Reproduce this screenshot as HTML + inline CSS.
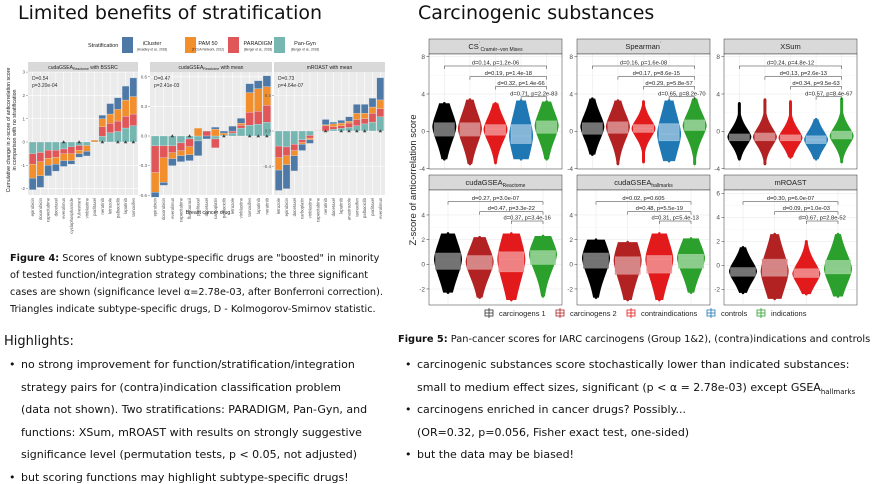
<!DOCTYPE html>
<html><head><meta charset="utf-8">
<style>
html,body{margin:0;padding:0;background:#fff;}
svg{display:block;font-family:"DejaVu Sans","Liberation Sans",sans-serif;}
.sm{font-family:"Liberation Sans",sans-serif;}
</style></head>
<body>
<svg id="root" width="882" height="484" viewBox="0 0 882 484" xmlns="http://www.w3.org/2000/svg">
<text x="18" y="19" font-size="19" fill="#111">Limited benefits of stratification</text>
<text x="418" y="19" font-size="19" fill="#111">Carcinogenic substances</text>
<g id="leftChart"></g>
<g id="rightChart"></g>

<g font-size="9.7" fill="#111">
<text x="10" y="261"><tspan font-weight="bold">Figure 4:</tspan> Scores of known subtype-specific drugs are "boosted" in minority</text>
<text x="10" y="278">of tested function/integration strategy combinations; the three significant</text>
<text x="10" y="295">cases are shown (significance level α=2.78e-03, after Bonferroni correction).</text>
<text x="10" y="312">Triangles indicate subtype-specific drugs, D - Kolmogorov-Smirnov statistic.</text>
</g>
<text x="4" y="345" font-size="13" fill="#111">Highlights:</text>
<g font-size="11" fill="#111">
<text x="9" y="368">•</text><text x="21" y="368">no strong improvement for function/stratification/integration</text>
<text x="21" y="391">strategy pairs for (contra)indication classification problem</text>
<text x="21" y="413">(data not shown). Two stratifications: PARADIGM, Pan-Gyn, and</text>
<text x="21" y="436">functions: XSum, mROAST with results on strongly suggestive</text>
<text x="21" y="458">significance level (permutation tests, p &lt; 0.05, not adjusted)</text>
<text x="9" y="481">•</text><text x="21" y="481">but scoring functions may highlight subtype-specific drugs!</text>
</g>
<g font-size="9.8" fill="#111">
<text x="398" y="342"><tspan font-weight="bold">Figure 5:</tspan> Pan-cancer scores for IARC carcinogens (Group 1&amp;2), (contra)indications and controls</text>
</g>
<g font-size="11" fill="#111">
<text x="405" y="368">•</text><text x="417" y="368">carcinogenic substances score stochastically lower than indicated substances:</text>
<text x="417" y="391">small to medium effect sizes, significant (p &lt; α = 2.78e-03) except GSEA<tspan font-size="7" dy="3">hallmarks</tspan></text>
<text x="405" y="413">•</text><text x="417" y="413">carcinogens enriched in cancer drugs? Possibly...</text>
<text x="417" y="436">(OR=0.32, p=0.056, Fisher exact test, one-sided)</text>
<text x="405" y="458">•</text><text x="417" y="458">but the data may be biased!</text>
</g>
</svg>
<script>
// ===== Left chart data =====
const drugs1 = ["epirubicin","doxorubicin","capecitabine","docetaxel","everolimus","cyclophosphamide","fulvestrant","vinblastine","paclitaxel","neratinib","letrozole","palbociclib","lapatinib","tamoxifen"];
const drugs2 = ["epirubicin","doxorubicin","everolimus","capecitabine","fluorouracil","paclitaxel","docetaxel","carboplatin","palbociclib","letrozole","vinblastine","tamoxifen","lapatinib","neratinib"];
const drugs3 = ["letrozole","epirubicin","docetaxel","carboplatin","vinblastine","capecitabine","neratinib","docetaxel","lapatinib","anastrozole","tamoxifen","palbociclib","paclitaxel","everolimus"];
const p1Teal = [-0.5,-0.45,-0.35,-0.35,-0.3,-0.2,-0.15,-0.15,0,0.25,0.4,0.45,0.6,0.7];
const p1Red = [-0.45,-0.4,-0.35,-0.3,-0.2,-0.3,-0.2,0,0,0.4,0.4,0.45,0.5,0.5];
const p1Orange = [-0.6,-0.6,-0.3,-0.3,-0.3,-0.3,-0.15,-0.25,0.08,0.35,0.4,0.5,0.7,0.75];
const p1Blue = [-0.5,-0.5,-0.45,-0.3,-0.25,-0.15,-0.15,-0.2,0,0.15,0.45,0.5,0.6,0.8];
const p2Teal = [-0.1,-0.1,-0.1,-0.07,-0.03,-0.05,0,-0.03,0.01,0.03,0.08,0.11,0.12,0.14];
const p2Red = [-0.27,-0.12,-0.07,-0.08,-0.08,0,0.05,-0.09,0,0.02,0.03,0.13,0.13,0.17];
const p2Orange = [-0.2,-0.25,-0.06,-0.05,-0.08,0.08,0,0.07,0.02,0,0.02,0.2,0.23,0.19];
const p2Blue = [-0.05,-0.03,-0.07,-0.06,-0.06,-0.15,-0.03,0.02,0.02,0.05,0.05,0.09,0.08,0.11];
const p3Teal = [-0.17,-0.18,-0.15,-0.1,-0.05,0,-0.01,0.02,0.03,0.04,0.06,0.08,0.1,0.16];
const p3Red = [-0.13,-0.1,-0.07,-0.03,-0.03,0,0.06,0.03,0.03,0.05,0.07,0.06,0.1,0.09];
const p3Orange = [-0.14,-0.1,-0.06,-0.02,-0.02,0.005,0.01,0.03,0.03,0.02,0.07,0.06,0.07,0.1];
const p3Blue = [-0.23,-0.27,-0.17,-0.07,-0.04,0,0.06,0.02,0.03,0.05,0.1,0.1,0.1,0.25];
const p1Tri = [4,6,9,11,12,13];
const p2Tri = [2,4,8,11,12,13];
const p3Tri = [6,8,9,10,11,13];
const p1Ticks = [3,2,1,0,-1,-2];
const p2Ticks = [0.6,0.3,0.0,-0.3,-0.6];
const p3Ticks = [0.4,0.0,-0.4];
const p1TickLabels = ["3","2","1","0","-1","-2"];
const p2TickLabels = ["0.6","0.3","0.0","-0.3","-0.6"];
const p3TickLabels = ["0.4","0.0","-0.4"];

// ===== Right chart data =====
const groupNames = ["carcinogens 1","carcinogens 2","contraindications","controls","indications"];
const csLo=[-3,-3.5,-3.4,-3,-3], csQ1=[-0.5,-0.5,-0.4,-1.3,-0.2], csMed=[0.5,0.3,0.2,-0.5,0.6], csQ3=[0.9,0.9,0.7,0.7,1.1], csHi=[3,3.4,3,3.3,3.2];
const spLo=[-2.5,-3.5,-3.3,-3.2,-3.5], spQ1=[-0.3,-0.2,-0.1,-1.0,0.1], spMed=[0.5,0.5,0.3,-0.3,0.6], spQ3=[0.9,1.0,0.7,0.8,1.2], spHi=[3.5,3.3,3.2,3.3,3.5];
const xsLo=[-3,-3.5,-2.8,-3,-3.3], xsQ1=[-1,-1,-1,-1.3,-0.8], xsMed=[-0.6,-0.6,-0.7,-0.9,-0.5], xsQ3=[-0.3,-0.2,-0.4,-0.5,0], xsHi=[3,3.4,3.2,1.3,3.5];
const rcLo=[-2.3,-2.7,-2.9,-2.6], rcQ1=[-0.4,-0.4,-0.6,0], rcMed=[0.4,0.2,0.4,0.8], rcQ3=[0.9,0.7,1.0,1.1], rcHi=[2.5,2.2,2.5,2.3];
const hmLo=[-2.7,-2.9,-2.9,-2.3], hmQ1=[-0.3,-0.8,-0.7,-0.3], hmMed=[0.5,0.3,0.4,0.5], hmQ3=[0.9,0.6,0.7,0.8], hmHi=[2,1.8,2.5,2.1];
const mrLo=[-2.3,-2.8,-2.4,-2.6], mrQ1=[-0.9,-0.9,-1,-0.7], mrMed=[-0.5,-0.5,-0.7,-0.3], mrQ3=[-0.2,0.5,-0.3,0.4], mrHi=[1.5,2.6,2,2.6];
const csBr=["d=0.14, p=1.2e-06","d=0.19, p=1.4e-18","d=0.32, p=1.4e-66","d=0.71, p=2.2e-83"];
const spBr=["d=0.16, p=1.6e-08","d=0.17, p=8.6e-15","d=0.29, p=5.8e-57","d=0.65, p=8.2e-70"];
const xsBr=["d=0.24, p=4.8e-12","d=0.13, p=2.6e-13","d=0.34, p=9.5e-63","d=0.57, p=8.4e-67"];
const rcBr=["d=0.27, p=3.0e-07","d=0.47, p=3.3e-22","d=0.37, p=3.4e-16"];
const hmBr=["d=0.02, p=0.605","d=0.48, p=5.5e-19","d=0.31, p=5.4e-13"];
const mrBr=["d=0.30, p=6.0e-07","d=0.09, p=1.0e-03","d=0.67, p=2.8e-52"];
const row1BrY=[7.0,5.85,4.8,3.7];
const rcBrY=[5.08,4.27,3.51];
const mrBrY=[5.3,4.47,3.69];
const row1Ticks=[8,4,0,-4];
const row2Ticks=[4,2,0,-2];
const mrTicks=[6,4,2,0,-2];

const NS="http://www.w3.org/2000/svg";
function mk(parent,tag,attrs,txt){const e=document.createElementNS(NS,tag);for(const k in attrs)e.setAttribute(k,attrs[k]);if(txt!==undefined)e.textContent=txt;parent.appendChild(e);return e;}

// ===== Left chart =====
const L=document.getElementById('leftChart');
const COLS={blue:"#4e79a7",orange:"#f28e2b",red:"#e15759",teal:"#76b7b2"};
const lg=mk(L,'g',{});


mk(lg,'text',{x:88,y:47,'font-size':5.5,class:'sm',fill:'#222'},'Stratification');
const legItems=[["iCluster","(Hoadley et al., 2018)",COLS.blue,122,152],["PAM 50","(TCGA Network, 2012)",COLS.orange,185,208],["PARADIGM","(Berger et al., 2018)",COLS.red,228,258],["Pan-Gyn","(Berger et al., 2018)",COLS.teal,274,305]];
legItems.forEach(it=>{
  const g=mk(lg,'g',{});
  
  
  mk(g,'rect',{x:it[3],y:37,width:11,height:16,fill:it[2]});
  mk(g,'text',{x:it[4],y:45,'font-size':5.5,class:'sm','text-anchor':'middle',fill:'#222'},it[0]);
  mk(g,'text',{x:it[4],y:50.5,'font-size':3.2,class:'sm','text-anchor':'middle',fill:'#333'},it[1]);
});
mk(L,'text',{transform:'translate(10,130) rotate(-90)','font-size':5.3,class:'sm','text-anchor':'middle',fill:'#222'},'Cumulative change in z-score of anticorrelation score');
mk(L,'text',{transform:'translate(16,130) rotate(-90)','font-size':5.3,class:'sm','text-anchor':'middle',fill:'#222'},'in comparison with no stratification');
mk(L,'text',{x:208,y:214,'font-size':5.3,class:'sm','text-anchor':'middle',fill:'#222'},'Breast cancer drug');

const leftPanels=[
 {x0:28,x1:138,zero:142,ppu:23.3,teal:p1Teal,red:p1Red,orange:p1Orange,blue:p1Blue,tri:p1Tri,ticks:p1Ticks,tl:p1TickLabels,drugs:drugs1,title:"cudaGSEA",sub:"Reactome",rest:" with BSSRC",D:"D=0.54",p:"p=3.20e-04"},
 {x0:150,x1:272,zero:136,ppu:98.7,teal:p2Teal,red:p2Red,orange:p2Orange,blue:p2Blue,tri:p2Tri,ticks:p2Ticks,tl:p2TickLabels,drugs:drugs2,title:"cudaGSEA",sub:"Reactome",rest:" with mean",D:"D=0.47",p:"p=2.41e-03"},
 {x0:274,x1:385,zero:131,ppu:88.75,teal:p3Teal,red:p3Red,orange:p3Orange,blue:p3Blue,tri:p3Tri,ticks:p3Ticks,tl:p3TickLabels,drugs:drugs3,title:"mROAST with mean",sub:"",rest:"",D:"D=0.73",p:"p=4.64e-07"}
];
leftPanels.forEach((P,pi)=>{
  const g=mk(L,'g',{});
  
  
  const top=72,bot=195,w=P.x1-P.x0,n=P.teal.length,unit=w/(n-1+1.2);
  const xc=i=>P.x0+unit*(0.6+i);
  const yv=v=>P.zero-v*P.ppu;
  mk(g,'rect',{x:P.x0,y:62,width:w,height:10,fill:'#d9d9d9'});
  const st=mk(g,'text',{x:(P.x0+P.x1)/2,y:69,'font-size':5,class:'sm','text-anchor':'middle',fill:'#222'},P.title);
  if(P.sub){mk(st,'tspan',{'font-size':3.5,dy:1},P.sub);mk(st,'tspan',{dy:-1},P.rest);}
  mk(g,'rect',{x:P.x0,y:top,width:w,height:bot-top,fill:'#ebebeb'});
  P.ticks.forEach((t,k)=>{
    const y=yv(t);
    mk(g,'line',{x1:P.x0,x2:P.x1,y1:y,y2:y,stroke:'#fff','stroke-width':0.6});
    mk(g,'text',{x:P.x0-3,y:y+1.6,'font-size':4.5,class:'sm','text-anchor':'end',fill:'#555'},P.tl[k]);
    mk(g,'line',{x1:P.x0-2,x2:P.x0,y1:y,y2:y,stroke:'#555','stroke-width':0.4});
  });
  for(let i=0;i<n;i++){mk(g,'line',{x1:xc(i),x2:xc(i),y1:top,y2:bot,stroke:'#fff','stroke-width':0.6});}
  const order=[["teal",P.teal],["red",P.red],["orange",P.orange],["blue",P.blue]];
  for(let i=0;i<n;i++){
    let pos=0,neg=0;
    order.forEach(([c,arr])=>{
      const v=arr[i]; if(!v) return;
      let a,b; if(v>0){a=pos;b=pos+v;pos=b;}else{a=neg;b=neg+v;neg=b;}
      const r=mk(g,'rect',{x:xc(i)-unit*0.45,y:Math.min(yv(a),yv(b)),width:unit*0.9,height:Math.abs(yv(a)-yv(b)),fill:COLS[c],stroke:'#dde6ef','stroke-width':0.3});
      
      
    });
    mk(g,'text',{transform:`translate(${xc(i)+1.5},${bot+3}) rotate(-90)`,'font-size':4.3,class:'sm','text-anchor':'end',fill:'#555'},P.drugs[i]);
  }
  P.tri.forEach(i=>{
    const x=xc(i),y=P.zero;
    const t=mk(g,'path',{d:`M${x-1.8},${y+1.2}L${x+1.8},${y+1.2}L${x},${y-1.8}Z`,fill:'#444'});
    
    
  });
  mk(g,'text',{x:P.x0+4,y:80,'font-size':5,class:'sm',fill:'#333'},P.D);
  mk(g,'text',{x:P.x0+4,y:87,'font-size':5,class:'sm',fill:'#333'},P.p);
});

// ===== Right chart =====
const R=document.getElementById('rightChart');
const GC=["#000000","#b22222","#e31a1c","#1f78b4","#2ca02c"];
const BOXC=["#777777","#d98080","#f08a8a","#8fbfe0","#8fd08f"];
mk(R,'text',{transform:'translate(416,180) rotate(-90)','font-size':9.5,class:'sm','text-anchor':'middle',fill:'#222'},'Z-score of anticorrelation score');
const rightPanels=[
 {name:"CS",x0:429,x1:562,st:39,top:54,bot:169,zero:131.3,ppu:9.33,lo:csLo,q1:csQ1,med:csMed,q3:csQ3,hi:csHi,br:csBr,bry:row1BrY,ticks:row1Ticks,grp:[0,1,2,3,4],W:12,main:"CS",sup:"´",sub:"Cramér−von Mises"},
 {name:"Spearman",x0:577,x1:710,st:39,top:54,bot:169,zero:131.3,ppu:9.33,lo:spLo,q1:spQ1,med:spMed,q3:spQ3,hi:spHi,br:spBr,bry:row1BrY,ticks:row1Ticks,grp:[0,1,2,3,4],W:12,main:"Spearman",sup:"´",sub:""},
 {name:"XSum",x0:724,x1:857,st:39,top:54,bot:169,zero:131.3,ppu:9.33,lo:xsLo,q1:xsQ1,med:xsMed,q3:xsQ3,hi:xsHi,br:xsBr,bry:row1BrY,ticks:row1Ticks,grp:[0,1,2,3,4],W:12,main:"XSum",sup:"",sub:""},
 {name:"cudaGSEA-reactome",x0:429,x1:562,st:175,top:190,bot:305,zero:264.3,ppu:12.33,lo:rcLo,q1:rcQ1,med:rcMed,q3:rcQ3,hi:rcHi,br:rcBr,bry:rcBrY,ticks:row2Ticks,grp:[0,1,2,4],W:14,main:"cudaGSEA",sup:"",sub:"Reactome"},
 {name:"cudaGSEA-hallmarks",x0:577,x1:710,st:175,top:190,bot:305,zero:264.3,ppu:12.33,lo:hmLo,q1:hmQ1,med:hmMed,q3:hmQ3,hi:hmHi,br:hmBr,bry:rcBrY,ticks:row2Ticks,grp:[0,1,2,4],W:14,main:"cudaGSEA",sup:"",sub:"hallmarks"},
 {name:"mROAST",x0:724,x1:857,st:175,top:190,bot:305,zero:265.3,ppu:12,lo:mrLo,q1:mrQ1,med:mrMed,q3:mrQ3,hi:mrHi,br:mrBr,bry:mrBrY,ticks:mrTicks,grp:[0,1,2,4],W:14,main:"mROAST",sup:"",sub:""}
];
rightPanels.forEach(P=>{
  const g=mk(R,'g',{});
  
  
  const w=P.x1-P.x0,n=P.grp.length,unit=w/(n-1+1.2);
  const xc=i=>P.x0+unit*(0.6+i);
  const yv=v=>P.zero-v*P.ppu;
  mk(g,'rect',{x:P.x0,y:P.st,width:w,height:P.top-P.st,fill:'#d9d9d9',stroke:'#333','stroke-width':0.5});
  const st=mk(g,'text',{x:(P.x0+P.x1)/2,y:P.st+10,'font-size':7.5,class:'sm','text-anchor':'middle',fill:'#222'},P.main);
  if(P.sup) mk(st,'tspan',{'font-size':5,dy:-3},P.sup);
  if(P.sub) mk(st,'tspan',{'font-size':5,dy:P.sup?5:2},P.sub);
  mk(g,'rect',{x:P.x0,y:P.top,width:w,height:P.bot-P.top,fill:'#fff'});
  for(let k=0;k<P.ticks.length;k++){
    const t=P.ticks[k],y=yv(t);
    mk(g,'line',{x1:P.x0,x2:P.x1,y1:y,y2:y,stroke:'#ebebeb','stroke-width':0.6});
    if(k<P.ticks.length-1){const ym=yv((t+P.ticks[k+1])/2);mk(g,'line',{x1:P.x0,x2:P.x1,y1:ym,y2:ym,stroke:'#f5f5f5','stroke-width':0.5});}
    mk(g,'line',{x1:P.x0-2.5,x2:P.x0,y1:y,y2:y,stroke:'#333','stroke-width':0.5});
    mk(g,'text',{x:P.x0-4,y:y+2.3,'font-size':6.5,class:'sm','text-anchor':'end',fill:'#4d4d4d'},String(t));
  }
  for(let i=0;i<n;i++) mk(g,'line',{x1:xc(i),x2:xc(i),y1:P.top,y2:P.bot,stroke:'#ebebeb','stroke-width':0.6});
  for(let i=0;i<n;i++){
    const gi=P.grp[i],col=GC[gi],x=xc(i);
    const lo=P.lo[i],hi=P.hi[i],med=P.med[i],q1=P.q1[i],q3=P.q3[i];
    const s=Math.max(1.0,(q3-q1)*1.3),steps=60;
    let L1=[],R1=[];
    for(let k=0;k<=steps;k++){
      const v=lo+(hi-lo)*k/steps;
      const z=(v-med)/s;
      const hw=Math.max(1.5,P.W*Math.exp(-0.5*Math.pow(Math.abs(z),1.6)));
      L1.push([x-hw,yv(v)]);R1.push([x+hw,yv(v)]);
    }
    const pts=L1.concat(R1.reverse());
    const v=mk(g,'path',{d:'M'+pts.map(p=>p[0].toFixed(2)+','+p[1].toFixed(2)).join('L')+'Z',fill:col});
    
    
    mk(g,'circle',{cx:x,cy:yv(hi),r:1.3,fill:col});
    mk(g,'circle',{cx:x,cy:yv(lo),r:1.3,fill:col});
    const bw=unit*0.78;
    const b=mk(g,'rect',{x:x-bw/2,y:yv(q3),width:bw,height:yv(q1)-yv(q3),fill:'#fff','fill-opacity':0.45,stroke:BOXC[gi],'stroke-width':0.9});
    
    
    mk(g,'line',{x1:x-bw/2,x2:x+bw/2,y1:yv(med),y2:yv(med),stroke:BOXC[gi],'stroke-width':1});
  }
  for(let j=0;j<P.br.length;j++){
    const xa=xc(j),xb=xc(n-1),y=yv(P.bry[j]);
    const br=mk(g,'path',{d:`M${xa},${y+3}L${xa},${y}L${xb},${y}L${xb},${y+3}`,fill:'none',stroke:'#333','stroke-width':0.5});
    
    
    mk(g,'text',{x:(xa+xb)/2,y:y-1.5,'font-size':5.8,class:'sm','text-anchor':'middle',fill:'#222'},P.br[j]);
  }
  mk(g,'rect',{x:P.x0,y:P.top,width:w,height:P.bot-P.top,fill:'none',stroke:'#333','stroke-width':0.5});
});
const rl=mk(R,'g',{});


const legX=[489,560,631,711,761];
groupNames.forEach((nm,i)=>{
  const g=mk(rl,'g',{});
  
  
  const x=legX[i],c=i==0?'#333':GC[i];
  mk(g,'rect',{x:x-4,y:310,width:8,height:6,fill:'none',stroke:c,'stroke-width':0.8});
  mk(g,'line',{x1:x-4,x2:x+4,y1:313,y2:313,stroke:c,'stroke-width':0.8});
  mk(g,'line',{x1:x,x2:x,y1:308,y2:318,stroke:c,'stroke-width':0.8});
  mk(g,'text',{x:x+10,y:316,'font-size':7.5,class:'sm',fill:'#222'},nm);
});
</script>
</body></html>
